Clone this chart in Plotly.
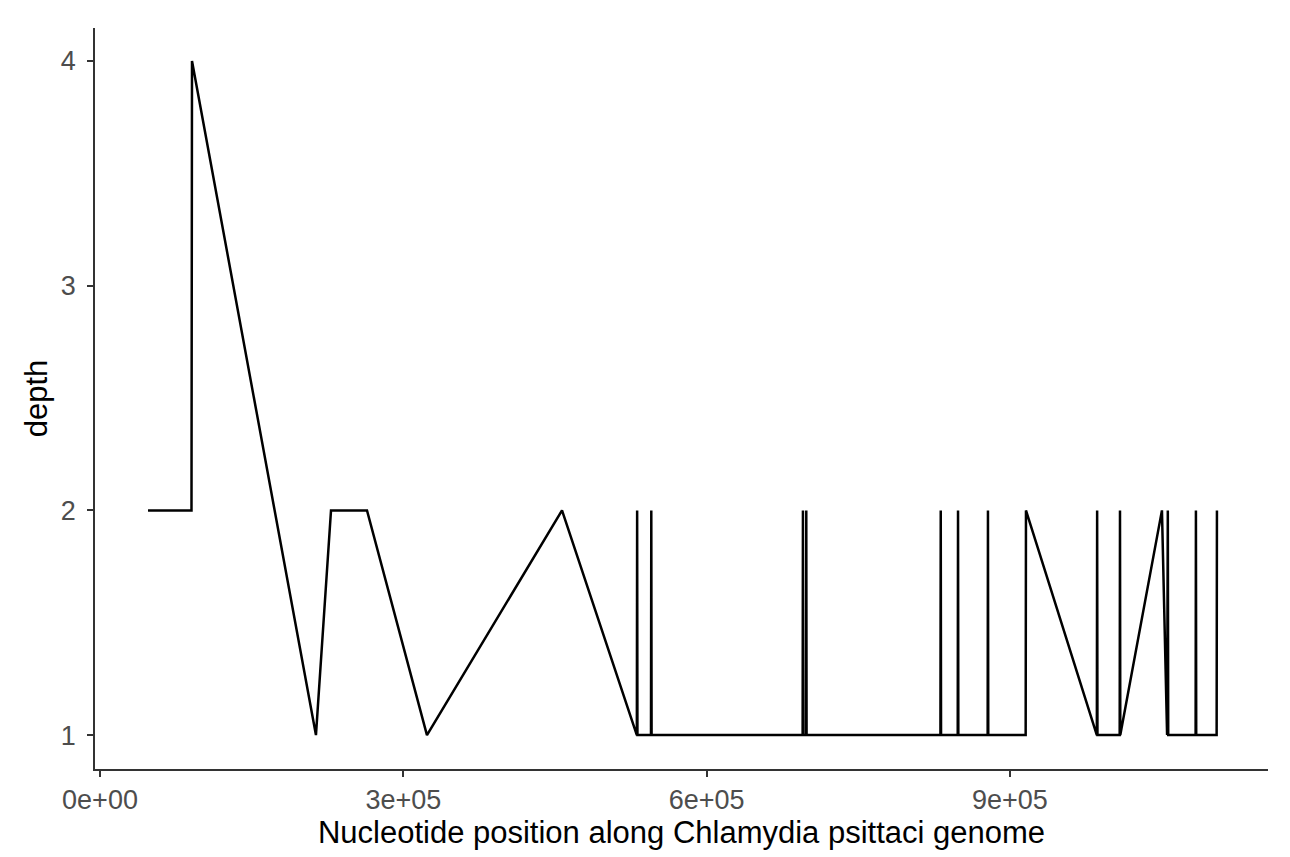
import plotly.graph_objects as go

positions = [47500, 90500, 91000, 213600, 228500, 264100, 323400, 457000,
             531000, 531300, 531600, 545000, 545300, 545600,
             695000, 695300, 695600, 698300, 698600, 698900,
             831300, 831600, 831900, 848400, 848700, 849000, 878000, 878300, 878600,
             915600, 915900, 986000, 986300, 986600, 1008600, 1008900, 1009200,
             1050400, 1055500, 1056200, 1056600, 1083700, 1084000, 1084300,
             1104500, 1104800]
depth = [2, 2, 4, 1, 2, 2, 1, 2,
         1, 2, 1, 1, 2, 1,
         1, 2, 1, 1, 2, 1,
         1, 2, 1, 1, 2, 1, 1, 2, 1,
         1, 2, 1, 2, 1, 1, 2, 1,
         2, 1, 2, 1, 1, 2, 1,
         1, 2]

x_ticks = [0, 300000, 600000, 900000]
x_tick_labels = ["0e+00", "3e+05", "6e+05", "9e+05"]
y_ticks = [1, 2, 3, 4]

fig = go.Figure()
fig.add_trace(go.Scatter(x=positions, y=depth, mode="lines",
                         line=dict(color="black", width=2.5), showlegend=False))

axis_common = dict(showline=True, linecolor="#333333", linewidth=1.6,
                   ticks="outside", ticklen=6, tickwidth=1.6, tickcolor="#333333",
                   showgrid=False, zeroline=False, automargin=False,
                   tickfont=dict(family="Liberation Sans", size=27, color="#4D4D4D"))

fig.update_layout(
    width=1290, height=857,
    margin=dict(l=87, r=30, t=20, b=96),
    plot_bgcolor="white", paper_bgcolor="white",
    xaxis=dict(range=[-4946, 1155300], tickvals=x_ticks, ticktext=x_tick_labels,
               title=dict(text="Nucleotide position along Chlamydia psittaci genome",
                          font=dict(family="Liberation Sans", size=31, color="black"),
                          standoff=2),
               **axis_common),
    yaxis=dict(range=[0.849, 4.147], tickvals=y_ticks, ticklabelstandoff=6,
               title=dict(text="depth",
                          font=dict(family="Liberation Sans", size=31, color="black"),
                          standoff=4),
               **axis_common),
)

fig.write_html("out.html")
